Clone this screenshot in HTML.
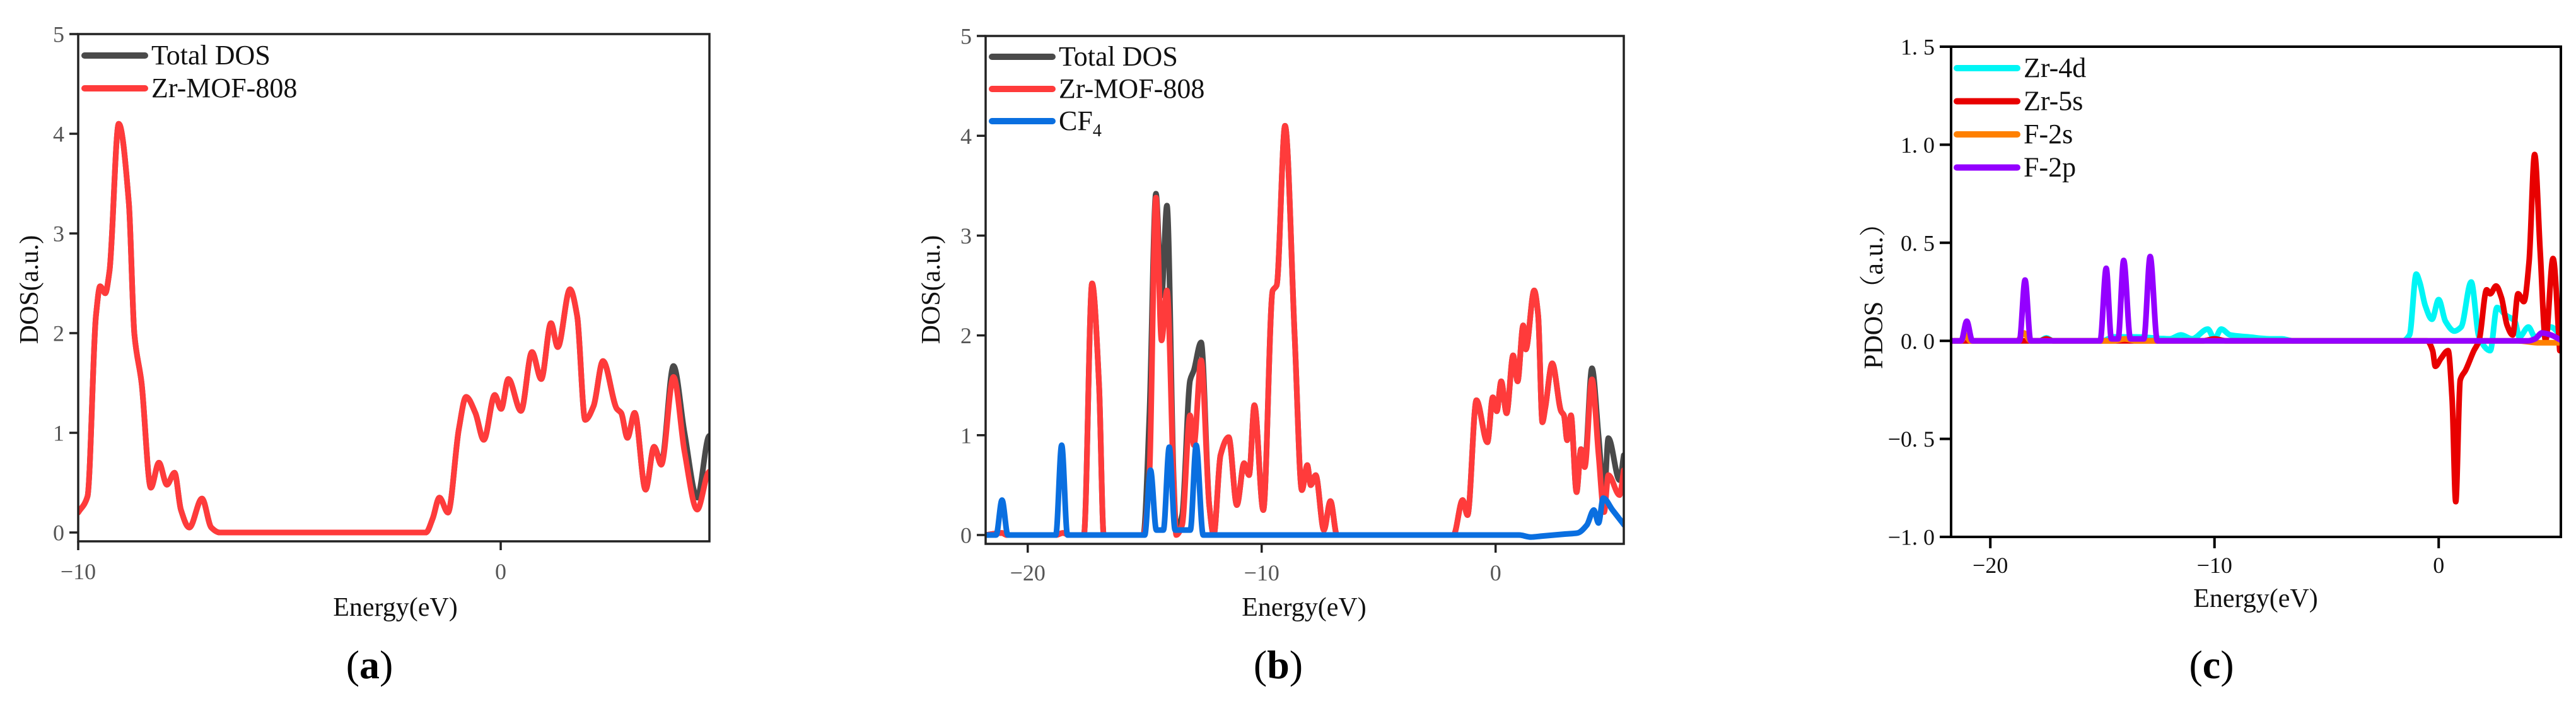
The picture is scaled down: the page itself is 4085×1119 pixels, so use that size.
<!DOCTYPE html>
<html><head><meta charset="utf-8"><style>
html,body{margin:0;padding:0;background:#fff;}
svg{display:block;}
</style></head><body>
<svg id="fig" width="4085" height="1119" viewBox="0 0 4085 1119" xmlns="http://www.w3.org/2000/svg">
<rect width="4085" height="1119" fill="#fff"/>
</svg>
<script>
// ---------- Panel (a) data ----------
const aEnergy = [-10,-9.78,-9.58,-9.48,-9.36,-9.26,-9.04,-8.8,-8.67,-8.5,-8.28,-8.09,-7.9,-7.72,-7.57,-7.37,-7.07,-6.85,-6.65,-1.77,-1.61,-1.45,-1.25,-0.99,-0.82,-0.6,-0.4,-0.14,0.01,0.18,0.48,0.74,0.96,1.19,1.35,1.64,1.81,2.0,2.2,2.42,2.75,2.85,3.0,3.17,3.43,3.63,3.8,4.09,4.35,4.65,4.94,5.0];
const aMOF = [0.2,0.36,2.17,2.47,2.4,2.62,4.1,3.3,1.99,1.5,0.45,0.7,0.48,0.6,0.23,0.05,0.34,0.05,0,0,0.14,0.35,0.2,1.04,1.36,1.2,0.93,1.38,1.24,1.54,1.22,1.81,1.54,2.1,1.86,2.44,2.17,1.13,1.27,1.72,1.24,1.2,0.95,1.2,0.43,0.86,0.68,1.56,0.81,0.23,0.61,0.59];
const aTotal = [0.2,0.36,2.17,2.47,2.4,2.62,4.1,3.3,1.99,1.5,0.45,0.7,0.48,0.6,0.23,0.05,0.34,0.05,0,0,0.14,0.35,0.2,1.04,1.36,1.2,0.93,1.38,1.24,1.54,1.22,1.81,1.54,2.1,1.86,2.44,2.17,1.13,1.27,1.72,1.24,1.2,0.95,1.2,0.43,0.86,0.7,1.67,1.0,0.35,0.97,0.85];
const aYTicks = [0,1,2,3,4,5];
const aXTicks = [-10,0];
const aXTickLabels = ["\u221210","0"];

// ---------- Panel (b) data ----------
const bEnergy = [-21.8,-21.1,-20.9,-18.8,-18.5,-18.2,-17.6,-17.25,-16.95,-16.75,-15.06,-14.8,-14.52,-14.28,-14.05,-13.76,-13.65,-13.4,-13.06,-12.9,-12.59,-12.24,-12.05,-11.76,-11.41,-11.06,-10.75,-10.54,-10.31,-9.93,-9.53,-9.36,-9.0,-8.59,-8.28,-8.05,-7.9,-7.69,-7.34,-7.06,-6.78,-1.8,-1.41,-1.2,-0.82,-0.35,-0.12,0.05,0.24,0.47,0.75,0.94,1.18,1.29,1.65,1.82,2.0,2.12,2.42,2.8,2.92,3.06,3.22,3.46,3.65,3.81,4.12,4.4,4.64,4.82,5.3,5.48];
const bMOF = [0,0.02,0,0,0.02,0,0,2.52,1.5,0,0,0.6,3.38,1.95,2.45,0.5,0,0.1,1.2,0.9,1.75,0.3,0,0.8,0.98,0.3,0.72,0.6,1.3,0.25,2.45,2.5,4.1,2.0,0.45,0.7,0.5,0.6,0.05,0.34,0,0,0.35,0.2,1.35,0.93,1.38,1.24,1.54,1.22,1.8,1.54,2.1,1.86,2.45,2.2,1.13,1.27,1.72,1.24,1.2,0.95,1.2,0.43,0.86,0.68,1.56,0.81,0.23,0.6,0.4,0.65];
const bTotal = [0,0.02,0,0,0.02,0,0,2.52,1.5,0,0,1.2,3.42,2.4,3.3,0.55,0.05,0.2,1.55,1.65,1.93,0.3,0,0.8,0.98,0.3,0.72,0.6,1.3,0.25,2.45,2.5,4.1,2.0,0.45,0.7,0.5,0.6,0.05,0.34,0,0,0.35,0.2,1.35,0.93,1.38,1.24,1.54,1.22,1.8,1.54,2.1,1.86,2.45,2.2,1.13,1.27,1.72,1.24,1.2,0.95,1.2,0.43,0.86,0.72,1.67,1.0,0.4,0.97,0.55,0.8];
const bCF4Energy = [-21.8,-21.35,-21.1,-20.85,-18.8,-18.55,-18.3,-15.0,-14.75,-14.5,-14.2,-13.95,-13.7,-13.05,-12.8,-12.5,1.0,1.5,2.0,3.0,3.5,3.9,4.2,4.4,4.6,5.0,5.5];
const bCF4 = [0,0,0.35,0,0,0.9,0,0,0.65,0.05,0.05,0.88,0.05,0.05,0.9,0,0,-0.02,-0.01,0.01,0.02,0.1,0.25,0.12,0.37,0.25,0.1];
const bYTicks = [0,1,2,3,4,5];
const bXTicks = [-20,-10,0];
const bXTickLabels = ["\u221220","\u221210","0"];

// ---------- Panel (c) data ----------
const cF2pEnergy = [-21.75,-21.3,-21.05,-20.8,-18.7,-18.45,-18.2,-15.1,-14.83,-14.6,-14.3,-14.05,-13.75,-13.15,-12.87,-12.55,4.0,4.3,4.6,5.0,5.5];
const cF2p = [0,0,0.1,0,0,0.31,0,0,0.37,0.01,0.01,0.41,0.01,0.01,0.43,0,0,0.01,0.04,0.03,0];
const cZr4dEnergy = [-21.75,-17.8,-17.5,-17.2,-15,-14.5,-13.5,-12,-11.5,-11,-10.3,-10,-9.7,-9.3,-8.5,-7.5,-7,-6.5,-1.6,-1.3,-1.0,-0.85,-0.6,-0.3,0.0,0.3,0.7,1.0,1.45,1.8,2.3,2.6,3.0,3.4,3.6,4.0,4.3,5.0,5.5];
const cZr4d = [0,0,0.015,0,0,0.02,0.02,0.01,0.03,0.01,0.06,0.01,0.06,0.03,0.02,0.01,0.01,0,0,0.03,0.34,0.3,0.18,0.11,0.21,0.1,0.05,0.07,0.3,0.02,-0.05,0.17,0.13,0.1,0.02,0.07,0.02,0.07,0.02];
const cZr5sEnergy = [-21.75,-17.8,-17.5,-17.2,-10.5,-10,-9.5,-0.8,-0.52,-0.27,-0.15,0.1,0.42,0.6,0.76,0.96,1.2,1.57,1.8,2.14,2.3,2.56,2.8,3.05,3.3,3.54,3.8,4.03,4.28,4.53,4.77,5.1,5.4];
const cZr5s = [0,0,0.01,0,0,0.01,0,0,0.0,-0.05,-0.13,-0.09,-0.05,-0.3,-0.82,-0.2,-0.15,-0.05,0.0,0.26,0.24,0.28,0.22,0.08,0.03,0.24,0.2,0.4,0.95,0.45,0.0,0.42,-0.05];
const cF2sEnergy = [-21.75,-21.3,-21.1,-20.9,-18.8,-18.5,-18.2,-14.5,-14,-13.5,3.5,4.5,5.5];
const cF2s = [0,0,0.03,0,0,0.04,0,0,0.01,0,0,-0.01,-0.01];
const cYTicks = [-1.0,-0.5,0.0,0.5,1.0,1.5];
const cYTickLabels = ["\u22121. 0","\u22120. 5","0. 0","0. 5","1. 0","1. 5"];
const cXTicks = [-20,-10,0];
const cXTickLabels = ["\u221220","\u221210","0"];

const NS = "http://www.w3.org/2000/svg";
const svg = document.getElementById('fig');
function mk(tag, attrs, parent, text){
  const e = document.createElementNS(NS, tag);
  for (const k in attrs) e.setAttribute(k, attrs[k]);
  if (text !== undefined) e.textContent = text;
  (parent || svg).appendChild(e);
  return e;
}
// monotone cubic (Fritsch-Carlson) - no overshoot
function smoothPath(xs, ys){
  const n = xs.length;
  const dx = [], m = [], t = [];
  for (let i = 0; i < n-1; i++){ dx[i] = xs[i+1]-xs[i]; m[i] = dx[i] === 0 ? 0 : (ys[i+1]-ys[i])/dx[i]; }
  t[0] = m[0]; t[n-1] = m[n-2];
  for (let i = 1; i < n-1; i++){
    if (m[i-1]*m[i] <= 0) t[i] = 0;
    else { const w1 = 2*dx[i]+dx[i-1], w2 = dx[i]+2*dx[i-1]; t[i] = (w1+w2)/(w1/m[i-1]+w2/m[i]); }
  }
  let d = "M" + xs[0].toFixed(1) + "," + ys[0].toFixed(1);
  for (let i = 0; i < n-1; i++){
    const h = dx[i]/3;
    d += " C" + (xs[i]+h).toFixed(1) + "," + (ys[i]+t[i]*h).toFixed(1) + " " + (xs[i+1]-h).toFixed(1) + "," + (ys[i+1]-t[i+1]*h).toFixed(1) + " " + xs[i+1].toFixed(1) + "," + ys[i+1].toFixed(1);
  }
  return d;
}

function panel(cfg){
  const g = mk('g', {});
  
  
  const sx = v => cfg.x0 + (v - cfg.xmin) / (cfg.xmax - cfg.xmin) * (cfg.x1 - cfg.x0);
  const sy = v => cfg.yTop + (cfg.ymaxT - v) / (cfg.ymaxT - cfg.yminT) * (cfg.yBot0 - cfg.yTop);
  const clipId = cfg.name + '-clip';
  const defs = mk('defs', {}, g);
  const cp = mk('clipPath', {id: clipId}, defs);
  mk('rect', {x: cfg.x0, y: cfg.yTop - 40, width: cfg.x1 - cfg.x0, height: cfg.yBottom - cfg.yTop + 40}, cp);
  const sg = mk('g', {'clip-path': 'url(#' + clipId + ')'}, g);
  
  
  cfg.series.forEach(s => {
    const p = mk('path', {d: smoothPath(s.x.map(sx), s.y.map(sy)), fill: 'none', stroke: s.color, 'stroke-width': cfg.lw, 'stroke-linejoin': 'round', 'stroke-linecap': 'round'}, sg);
    
    
  });
  const fr = mk('rect', {x: cfg.x0, y: cfg.yTop, width: cfg.x1 - cfg.x0, height: cfg.yBottom - cfg.yTop, fill: 'none', stroke: cfg.frameColor, 'stroke-width': cfg.frameW}, g);
  
  
  cfg.yTicks.forEach((v, i) => {
    const y = sy(v);
    const t = mk('line', {x1: cfg.x0 - cfg.tickLen, x2: cfg.x0, y1: y, y2: y, stroke: cfg.frameColor, 'stroke-width': cfg.frameW}, g);
    
    
    const lb = mk('text', {x: cfg.x0 - cfg.tickLen - 8, y: y + cfg.tickFont*0.35, 'text-anchor': 'end', 'font-size': cfg.tickFont, fill: cfg.tickColor, 'font-family': cfg.tickFamily}, g, cfg.yTickLabels ? cfg.yTickLabels[i] : String(v));
    
    
  });
  cfg.xTicks.forEach((v, i) => {
    const x = sx(v);
    const t = mk('line', {x1: x, x2: x, y1: cfg.yBottom, y2: cfg.yBottom + cfg.tickLen, stroke: cfg.frameColor, 'stroke-width': cfg.frameW}, g);
    
    
    const lb = mk('text', {x: x, y: cfg.xLabelY, 'text-anchor': 'middle', 'font-size': cfg.tickFont, fill: cfg.tickColor, 'font-family': cfg.tickFamily}, g, cfg.xTickLabels[i]);
    
    
  });
  const xt = mk('text', {x: cfg.xTitleX, y: cfg.xTitleY, 'text-anchor': 'middle', 'font-size': 42, fill: '#111', 'font-family': '"Liberation Serif", serif'}, g, 'Energy(eV)');
  
  
  const yt = mk('text', {x: 0, y: 0, transform: 'translate(' + cfg.yTitleX + ',' + cfg.yTitleY + ') rotate(-90)', 'text-anchor': 'middle', 'font-size': 42, fill: '#111', 'font-family': '"Liberation Serif", "Noto Serif CJK SC", serif'}, g, cfg.yTitle);
  
  
  cfg.series.slice().sort((a,b)=>a.li-b.li).forEach((s, i) => {
    const y = cfg.legY + i * cfg.legStep;
    const eg = mk('g', {}, g);
    
    
    mk('line', {x1: cfg.legX, x2: cfg.legX + cfg.legLen, y1: y, y2: y, stroke: s.color, 'stroke-width': cfg.lw + 1, 'stroke-linecap': 'round'}, eg);
    const tx = mk('text', {x: cfg.legX + cfg.legLen + 10, y: y + 14, 'font-size': 44, fill: '#111', 'font-family': '"Liberation Serif", serif'}, eg);
    tx.textContent = s.label;
    if (s.sub){ const ts = mk('tspan', {'font-size': 28, dy: 10}, tx); ts.textContent = s.sub; }
  });
  const pl = mk('text', {x: cfg.panelX, y: 1075, 'text-anchor': 'middle', 'font-size': 64, fill: '#000', 'font-family': '"Liberation Serif", serif'}, g);
  
  
  mk('tspan', {}, pl, '(');
  mk('tspan', {'font-weight': 'bold'}, pl, cfg.letter);
  mk('tspan', {}, pl, ')');
}

const serifTicks = '"Liberation Serif", serif';
panel({name: 'panel-a', letter: 'a', x0: 124, x1: 1125, xmin: -10, xmax: 4.94,
  yTop: 54, yBot0: 844, yBottom: 858, ymaxT: 5, yminT: 0,
  yTicks: aYTicks, xTicks: aXTicks, xTickLabels: aXTickLabels,
  tickLen: 14, tickFont: 36, tickColor: '#555', tickFamily: serifTicks, frameColor: '#222', frameW: 3.5, lw: 9,
  xLabelY: 918, xTitleX: 627, xTitleY: 976, yTitleX: 60, yTitleY: 459, yTitle: 'DOS(a.u.)',
  legX: 134, legLen: 96, legY: 88, legStep: 52, panelX: 586,
  series: [
    {id: 'total-dos', label: 'Total DOS', color: '#4a4a4a', x: aEnergy, y: aTotal, li: 0},
    {id: 'zr-mof-808', label: 'Zr-MOF-808', color: '#ff3b3b', x: aEnergy, y: aMOF, li: 1}
  ]});
panel({name: 'panel-b', letter: 'b', x0: 1563, x1: 2575, xmin: -21.8, xmax: 5.48,
  yTop: 57, yBot0: 848, yBottom: 862, ymaxT: 5, yminT: 0,
  yTicks: bYTicks, xTicks: bXTicks, xTickLabels: bXTickLabels,
  tickLen: 14, tickFont: 36, tickColor: '#555', tickFamily: serifTicks, frameColor: '#222', frameW: 3.5, lw: 9,
  xLabelY: 920, xTitleX: 2068, xTitleY: 976, yTitleX: 1490, yTitleY: 459, yTitle: 'DOS(a.u.)',
  legX: 1573, legLen: 96, legY: 90, legStep: 51, panelX: 2027,
  series: [
    {id: 'total-dos', label: 'Total DOS', color: '#4a4a4a', x: bEnergy, y: bTotal, li: 0},
    {id: 'zr-mof-808', label: 'Zr-MOF-808', color: '#ff3b3b', x: bEnergy, y: bMOF, li: 1},
    {id: 'cf4', label: 'CF', sub: '4', color: '#0a6fe0', x: bCF4Energy, y: bCF4, li: 2}
  ]});
panel({name: 'panel-c', letter: 'c', x0: 3094, x1: 4061, xmin: -21.75, xmax: 5.45,
  yTop: 74, yBot0: 851, yBottom: 851, ymaxT: 1.5, yminT: -1.0,
  yTicks: cYTicks, yTickLabels: cYTickLabels, xTicks: cXTicks, xTickLabels: cXTickLabels,
  tickLen: 18, tickFont: 36, tickColor: '#111', tickFamily: serifTicks, frameColor: '#000', frameW: 4, lw: 9,
  xLabelY: 908, xTitleX: 3577, xTitleY: 962, yTitleX: 2985, yTitleY: 459, yTitle: 'PDOS（a.u.）',
  legX: 3103, legLen: 96, legY: 108, legStep: 52.5, panelX: 3507,
  series: [
    {id: 'zr-4d', label: 'Zr-4d', color: '#00f5f5', x: cZr4dEnergy, y: cZr4d, li: 0},
    {id: 'zr-5s', label: 'Zr-5s', color: '#e80000', x: cZr5sEnergy, y: cZr5s, li: 1},
    {id: 'f-2s', label: 'F-2s', color: '#ff8000', x: cF2sEnergy, y: cF2s, li: 2},
    {id: 'f-2p', label: 'F-2p', color: '#9400ff', x: cF2pEnergy, y: cF2p, li: 3}
  ]});
</script>
</body></html>
